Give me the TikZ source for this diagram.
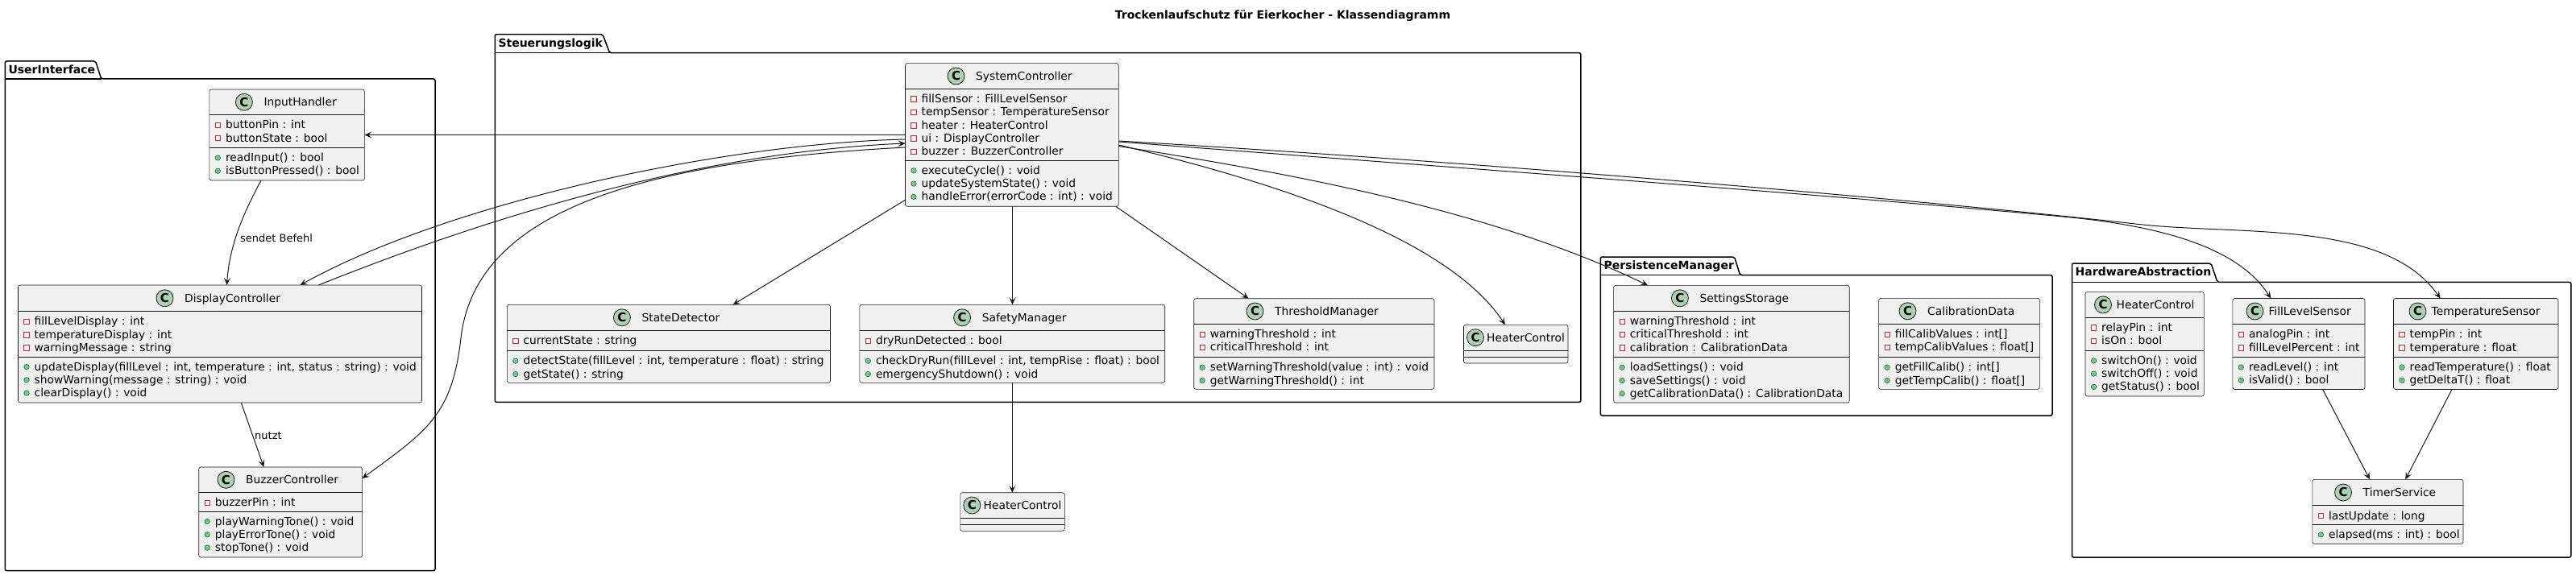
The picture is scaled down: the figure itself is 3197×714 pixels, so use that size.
\documentclass[tikz,border=0pt]{standalone}
\usepackage{fontspec}
\setmainfont{DejaVu Sans}
\usetikzlibrary{arrows.meta}
\definecolor{boxfill}{HTML}{F1F1F1}
\definecolor{boxline}{HTML}{181818}
\definecolor{cfill}{HTML}{ADD1B2}
\definecolor{privc}{HTML}{C82930}
\definecolor{pubfill}{HTML}{84BE84}
\definecolor{publine}{HTML}{038048}
\tikzset{
 clsbox/.style={draw=boxline, fill=boxfill, line width=0.6pt, rounded corners=2.5pt, anchor=north west, inner sep=0, outer sep=0},
 divl/.style={draw=boxline, line width=0.6pt},
 cname/.style={anchor=base west, inner sep=0, font=\fontsize{13.8}{16}\selectfont},
 cbadge/.style={circle, draw=boxline, fill=cfill, line width=0.8pt, minimum size=21pt, inner sep=0, font=\fontsize{15}{15}\selectfont\bfseries},
 mem/.style={anchor=base west, inner sep=0, font=\fontsize{13.8}{16}\selectfont},
 privicon/.style={draw=privc, line width=0.7pt, minimum size=6.5pt, inner sep=0},
 pubicon/.style={circle, draw=publine, fill=pubfill, line width=0.6pt, minimum size=6.5pt, inner sep=0},
 pkg/.style={draw=black, line width=1.5pt, rounded corners=2pt},
 pkglabel/.style={anchor=base west, inner sep=0, font=\fontsize{14}{16}\selectfont\bfseries},
 conn/.style={draw=boxline, line width=1pt, -{Stealth[length=9pt,width=8pt,inset=4pt]}},
 elabel/.style={anchor=base west, inner sep=0, font=\fontsize{13}{15}\selectfont},
}
% class box: name, x1, y1, x2, y2, header line y, divider y
\newcommand\clsA[7]{%
 \node[clsbox, minimum width={(#4-#2)*1pt}, minimum height={(#5-#3)*1pt}] (#1) at (#2,#3) {};
 \draw[divl] (#2,#6) -- (#4,#6);
 \draw[divl] (#2,#7) -- (#4,#7);
}
% title: circle x, text x, y, text
\newcommand\ctitle[4]{%
 \node[cbadge] at (#1,#3) {C};
 \node[cname] at (#2,#3+5) {#4};
}
\newcommand\umpriv[3]{\node[privicon] at (#1+10.5,#2+0.5) {}; \node[mem] at (#1+20,#2+5) {#3};}
\newcommand\umpub[3]{\node[pubicon] at (#1+10.5,#2+0.5) {}; \node[mem] at (#1+20,#2+5) {#3};}
% package: x1, tabtop, tabR top, tabR bottom, tabbottom, x2, y2, label
\newcommand\pkgA[8]{%
 \draw[pkg] (#1,#7) -- (#1,#2) -- (#3,#2) -- (#4,#5) -- (#6,#5) -- (#6,#7) -- cycle;
 \draw[pkg] (#1,#5) -- (#4,#5);
 \node[pkglabel] at (#1+4,#2+15.5) {#8};
}
\begin{document}
\begin{tikzpicture}[x=1pt,y=-1pt]
\useasboundingbox (0,0) rectangle (3197,714);
\fill[white] (0,0) rectangle (3197,714);

\node[anchor=base, inner sep=0, font=\fontsize{14}{16}\selectfont\bfseries] (title) at (1592,23.3) {Trockenlaufschutz für Eierkocher - Klassendiagramm};

% packages
\pkgA{6.3}{76}{118.6}{125.7}{98}{540}{708.6}{UserInterface}
\pkgA{614.3}{42.7}{748}{756.6}{65.7}{1961.8}{499.3}{Steuerungslogik}
\pkgA{1986.4}{319}{2152.5}{2159.6}{341.7}{2547}{516}{PersistenceManager}
\pkgA{2571.5}{327}{2744}{2752}{350.4}{3190.8}{692}{HardwareAbstraction}

% InputHandler
\clsA{ih}{259.8}{111}{452.4}{224}{142.5}{183.5}
\ctitle{302.9}{327.4}{126.8}{InputHandler}
\umpriv{259.8}{154.8}{buttonPin : int}
\umpriv{259.8}{171.1}{buttonState : bool}
\umpub{259.8}{195.5}{readInput() : bool}
\umpub{259.8}{211.8}{isButtonPressed() : bool}

% DisplayController
\clsA{dc}{22.5}{354}{523.5}{500}{386.6}{443}
\ctitle{204.5}{229}{370.3}{DisplayController}
\umpriv{22.5}{398.9}{fillLevelDisplay : int}
\umpriv{22.5}{415.2}{temperatureDisplay : int}
\umpriv{22.5}{431.5}{warningMessage : string}
\umpub{22.5}{455}{updateDisplay(fillLevel : int, temperature : int, status : string) : void}
\umpub{22.5}{471.3}{showWarning(message : string) : void}
\umpub{22.5}{487.6}{clearDisplay() : void}

% BuzzerController
\clsA{bc}{246.7}{580}{449.6}{692}{611.6}{635}
\ctitle{280.5}{305}{595.8}{BuzzerController}
\umpriv{246.7}{623.9}{buzzerPin : int}
\umpub{246.7}{647}{playWarningTone() : void}
\umpub{246.7}{663.3}{playErrorTone() : void}
\umpub{246.7}{679.6}{stopTone() : void}

% SystemController
\clsA{sc}{1123.5}{78.7}{1388.3}{256.3}{110.3}{199.3}
\ctitle{1186.5}{1211}{94.5}{SystemController}
\umpriv{1123.5}{122.6}{fillSensor : FillLevelSensor}
\umpriv{1123.5}{138.9}{tempSensor : TemperatureSensor}
\umpriv{1123.5}{155.2}{heater : HeaterControl}
\umpriv{1123.5}{171.5}{ui : DisplayController}
\umpriv{1123.5}{187.8}{buzzer : BuzzerController}
\umpub{1123.5}{211.3}{executeCycle() : void}
\umpub{1123.5}{227.6}{updateSystemState() : void}
\umpub{1123.5}{243.9}{handleError(errorCode : int) : void}

% StateDetector
\clsA{sd}{629.3}{378.3}{1030.5}{475.3}{410.3}{435.7}
\ctitle{771.9}{796.4}{394.3}{StateDetector}
\umpriv{629.3}{422.6}{currentState : string}
\umpub{629.3}{447.7}{detectState(fillLevel : int, temperature : float) : string}
\umpub{629.3}{464}{getState() : string}

% SafetyManager
\clsA{sm}{1066.8}{378.3}{1445.7}{475.3}{410.3}{435.7}
\ctitle{1194.1}{1218.6}{394.3}{SafetyManager}
\umpriv{1066.8}{422.6}{dryRunDetected : bool}
\umpub{1066.8}{447.7}{checkDryRun(fillLevel : int, tempRise : float) : bool}
\umpub{1066.8}{464}{emergencyShutdown() : void}

% ThresholdManager
\clsA{tm}{1481.7}{370.7}{1780}{483.3}{402.3}{443.7}
\ctitle{1557.5}{1582}{386.5}{ThresholdManager}
\umpriv{1481.7}{414.6}{warningThreshold : int}
\umpriv{1481.7}{430.9}{criticalThreshold : int}
\umpub{1481.7}{455.7}{setWarningThreshold(value : int) : void}
\umpub{1481.7}{472}{getWarningThreshold() : int}

% HeaterControl (in Steuerungslogik)
\clsA{hcs}{1816.5}{403.3}{1946}{451}{435}{443}
\ctitle{1831}{1845}{419.2}{HeaterControl}

% HeaterControl (outside)
\clsA{hco}{1191.8}{611.7}{1321.3}{659.3}{643.3}{651.3}
\ctitle{1206.3}{1220.5}{627.5}{HeaterControl}

% SettingsStorage
\clsA{ss}{2002.6}{354.3}{2295.2}{500}{386.3}{443.7}
\ctitle{2084.9}{2109.4}{370.3}{SettingsStorage}
\umpriv{2002.6}{398.6}{warningThreshold : int}
\umpriv{2002.6}{414.9}{criticalThreshold : int}
\umpriv{2002.6}{431.2}{calibration : CalibrationData}
\umpub{2002.6}{455.7}{loadSettings() : void}
\umpub{2002.6}{472}{saveSettings() : void}
\umpub{2002.6}{488.3}{getCalibrationData() : CalibrationData}

% CalibrationData
\clsA{cd}{2331.6}{370.3}{2531.3}{483.3}{402.3}{443.7}
\ctitle{2367.5}{2392}{386.3}{CalibrationData}
\umpriv{2331.6}{414.6}{fillCalibValues : int[]}
\umpriv{2331.6}{430.9}{tempCalibValues : float[]}
\umpub{2331.6}{455.7}{getFillCalib() : int[]}
\umpub{2331.6}{472}{getTempCalib() : float[]}

% HeaterControl (HardwareAbstraction)
\clsA{hch}{2588}{362.6}{2735.3}{492}{394.2}{435.3}
\ctitle{2610}{2626.5}{378.4}{HeaterControl}
\umpriv{2588}{406.5}{relayPin : int}
\umpriv{2588}{422.8}{isOn : bool}
\umpub{2588}{447.3}{switchOn() : void}
\umpub{2588}{463.6}{switchOff() : void}
\umpub{2588}{479.9}{getStatus() : bool}

% FillLevelSensor
\clsA{fls}{2770.8}{370.5}{2935}{483.5}{402.5}{443.5}
\ctitle{2798.5}{2815.3}{386.5}{FillLevelSensor}
\umpriv{2770.8}{414.8}{analogPin : int}
\umpriv{2770.8}{431.1}{fillLevelPercent : int}
\umpub{2770.8}{455.5}{readLevel() : int}
\umpub{2770.8}{471.8}{isValid() : bool}

% TemperatureSensor
\clsA{ts}{2970.5}{370.5}{3175}{483.5}{402.5}{443.5}
\ctitle{3000.5}{3017.5}{386.5}{TemperatureSensor}
\umpriv{2970.5}{414.8}{tempPin : int}
\umpriv{2970.5}{431.1}{temperature : float}
\umpub{2970.5}{455.5}{readTemperature() : float}
\umpub{2970.5}{471.8}{getDeltaT() : float}

% TimerService
\clsA{tsv}{2869.8}{595.3}{3057}{675.2}{627.7}{651.4}
\ctitle{2908}{2932.5}{611.5}{TimerService}
\umpriv{2869.8}{640}{lastUpdate : long}
\umpub{2869.8}{663.4}{elapsed(ms : int) : bool}

% connectors
\draw[conn] (sc.west |- 0,167.5) -- (ih.east |- 0,167.5);
\draw[conn] (ih.south -| 324,0) .. controls (306,258) and (285,300) .. (dc.north -| 281.5,0);
\node[elabel] (l1) at (298,300) {sendet Befehl};
\draw[conn] (dc.south -| 299.3,0) -- (bc.north -| 327.4,0);
\node[elabel] (l2) at (316,545.5) {nutzt};
\draw[conn] (sc.west |- 0,173) .. controls (900,178) and (560,250) .. (dc.north -| 372.5,0);
\draw[conn] (dc.north -| 395.4,0) .. controls (580,280) and (850,190) .. (sc.west |- 0,178);
\draw[conn] (sc.west |- 0,183) .. controls (800,200) and (590,260) .. (572,420) .. controls (561,516) and (530,535) .. (bc.east |- 0,594);
\draw[conn] (sc.west |- 0,248.3) -- (sd.north -| 909.7,0);
\draw[conn] (sc.south -| 1256.5,0) -- (sm.north -| 1256.5,0);
\draw[conn] (sc.south -| 1384.8,0) -- (tm.north -| 1549.6,0);
\draw[conn] (sc.east |- 0,180) .. controls (1600,230) and (1800,300) .. (hcs.north -| 1868,0);
\draw[conn] (sc.east |- 0,181.5) .. controls (1600,215) and (1850,260) .. (ss.north -| 2045,0);
\draw[conn] (sc.east |- 0,176) .. controls (1800,208) and (2250,240) .. (2560,269) .. controls (2690,281) and (2780,310) .. (fls.north -| 2818.2,0);
\draw[conn] (sc.east |- 0,175) .. controls (1900,205) and (2450,255) .. (2650,278) .. controls (2780,293) and (2960,272) .. (ts.north -| 3028.6,0);
\draw[conn] (sm.south -| 1256.3,0) -- (hco.north -| 1256.3,0);
\draw[conn] (fls.south -| 2882.6,0) -- (tsv.north -| 2941,0);
\draw[conn] (ts.south -| 3043,0) -- (tsv.north -| 2985.3,0);
\end{tikzpicture}
\end{document}
